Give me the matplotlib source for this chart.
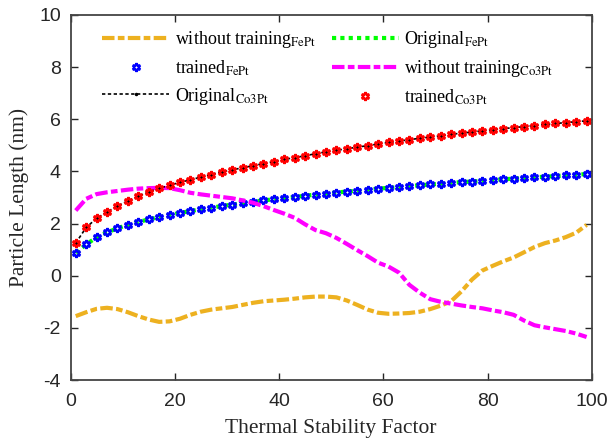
"""Particle length vs thermal stability factor, FePt and Co3Pt"""
import numpy as np
import matplotlib
matplotlib.use('Agg')
import matplotlib.pyplot as plt

plt.rcParams['mathtext.fontset'] = 'stix'
plt.rcParams['axes.unicode_minus'] = False

# thermal stability factor (odd values 1..99)
delta = np.arange(1, 100, 2)

trained_fept = [0.88, 1.20, 1.47, 1.66, 1.82, 1.95, 2.06, 2.16, 2.25, 2.33,
                2.41, 2.48, 2.55, 2.61, 2.67, 2.73, 2.78, 2.84, 2.89, 2.93,
                2.98, 3.02, 3.07, 3.11, 3.15, 3.19, 3.23, 3.26, 3.30, 3.34,
                3.37, 3.40, 3.44, 3.47, 3.50, 3.53, 3.56, 3.59, 3.61, 3.64,
                3.67, 3.70, 3.72, 3.75, 3.77, 3.80, 3.82, 3.85, 3.87, 3.90]
original_fept = trained_fept

trained_co3pt = [1.25, 1.85, 2.20, 2.45, 2.67, 2.87, 3.05, 3.21, 3.35, 3.47,
                 3.58, 3.68, 3.78, 3.88, 3.98, 4.06, 4.14, 4.22, 4.30, 4.38,
                 4.46, 4.53, 4.60, 4.68, 4.75, 4.81, 4.87, 4.93, 4.99, 5.05,
                 5.11, 5.16, 5.22, 5.27, 5.32, 5.37, 5.42, 5.47, 5.51, 5.56,
                 5.60, 5.64, 5.68, 5.72, 5.76, 5.80, 5.84, 5.87, 5.91, 5.94]
original_co3pt = trained_co3pt

untrained_fept = [-1.55, -1.40, -1.27, -1.23, -1.28, -1.40, -1.55, -1.68, -1.77, -1.75,
                  -1.65, -1.50, -1.38, -1.30, -1.25, -1.20, -1.12, -1.04, -0.98, -0.95,
                  -0.92, -0.88, -0.83, -0.80, -0.80, -0.83, -0.95, -1.12, -1.30, -1.42,
                  -1.46, -1.45, -1.43, -1.38, -1.28, -1.15, -0.98, -0.60, -0.15, 0.20,
                  0.38, 0.55, 0.70, 0.90, 1.10, 1.25, 1.35, 1.48, 1.65, 1.95]

untrained_co3pt = [2.50, 2.95, 3.13, 3.20, 3.25, 3.30, 3.34, 3.36, 3.37, 3.36,
                   3.28, 3.18, 3.12, 3.07, 3.02, 2.97, 2.89, 2.80, 2.67, 2.52,
                   2.38, 2.22, 1.97, 1.75, 1.63, 1.45, 1.22, 0.98, 0.75, 0.50,
                   0.35, 0.12, -0.35, -0.65, -0.90, -1.00, -1.07, -1.14, -1.20, -1.25,
                   -1.33, -1.40, -1.50, -1.72, -1.90, -1.98, -2.05, -2.12, -2.22, -2.35]

serif = ['Liberation Serif', 'DejaVu Serif']
sans = ['Liberation Sans', 'DejaVu Sans']
dashdot = (0, (3, 0.8, 1.6, 0.8))

fig = plt.figure(figsize=(6.09, 4.41), dpi=100)
ax = fig.add_axes([0.1158, 0.1383, 0.856, 0.8277])

h1, = ax.plot(delta, untrained_fept, color='#EDB120', linewidth=3,
              linestyle=dashdot, label=r'without training$_{\mathrm{FePt}}$')
h2, = ax.plot(delta, original_fept, color='#00FF00', linewidth=3,
              linestyle=(0, (1, 1)), label=r'Original$_{\mathrm{FePt}}$')
h3, = ax.plot(delta, trained_fept, color='blue', linestyle='none',
              marker=(6, 1, 0), markersize=6, markeredgewidth=1.8,
              markerfacecolor='none', label=r'trained$_{\mathrm{FePt}}$')
h4, = ax.plot(delta, untrained_co3pt, color='magenta', linewidth=3,
              linestyle=dashdot, label=r'without training$_{\mathrm{Co3Pt}}$')
h5, = ax.plot(delta, original_co3pt, color='black', linewidth=1.2,
              linestyle=(0, (2, 1.5)), marker='.', markersize=3,
              label=r'Original$_{\mathrm{Co3Pt}}$')
h6, = ax.plot(delta, trained_co3pt, color='red', linestyle='none',
              marker=(6, 1, 0), markersize=6, markeredgewidth=1.8,
              markerfacecolor='none', label=r'trained$_{\mathrm{Co3Pt}}$')

ax.set_xlim(0, 100)
ax.set_ylim(-4, 10)
ax.set_xticks(np.arange(0, 101, 20))
ax.set_yticks(np.arange(-4, 11, 2))
ax.tick_params(direction='in', which='both', top=True, right=True,
               length=5, width=1, colors='#262626', labelsize=14)
ax.tick_params(axis='x', pad=9)
ax.tick_params(axis='y', pad=7)
for lab in ax.get_xticklabels() + ax.get_yticklabels():
    lab.set_family(sans)
for sp in ax.spines.values():
    sp.set_linewidth(1.3)
    sp.set_color('#444444')

ax.set_xlabel('Thermal Stability Factor', family=serif, fontsize=15.5,
              color='#262626', labelpad=7)
ax.set_ylabel('Particle Length (nm)', family=serif, fontsize=15.5,
              color='#262626', labelpad=7)

# matplotlib fills legend columns first, so reorder to get row-wise layout
leg = ax.legend(handles=[h1, h3, h5, h2, h4, h6], ncol=2, frameon=False,
                loc='upper left', bbox_to_anchor=(0.023, 1.016), numpoints=1,
                prop={'family': serif, 'size': 13},
                handlelength=3.7, columnspacing=0.9, labelspacing=0.45,
                handletextpad=0.3, borderaxespad=0.5, borderpad=0.6)

plt.savefig('out.png', dpi=100)
